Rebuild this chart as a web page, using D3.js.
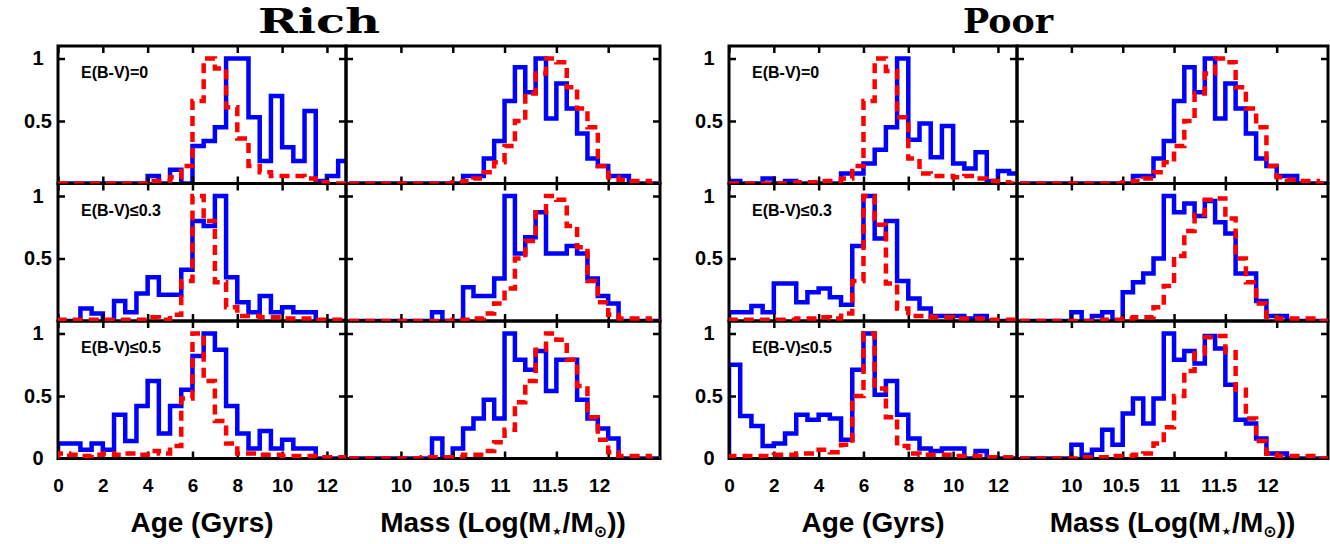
<!DOCTYPE html>
<html>
<head>
<meta charset="utf-8">
<script src="https://cdn.jsdelivr.net/npm/d3@7"></script>
<style>
  body { margin: 0; background: #fff; }
  text { font-family: "Liberation Sans", Arial, sans-serif; font-weight: bold; fill: #000; }
</style>
</head>
<body>
<div id="chart"></div>
<script>
// bin starts (age in Gyr, mass in log Msun)
const ageBins = [0, 0.5, 1, 1.5, 2, 2.5, 3, 3.5, 4, 4.5, 5, 5.5, 6, 6.5, 7, 7.5, 8, 8.5, 9, 9.5, 10, 10.5, 11, 11.5, 12, 12.5];
const massBins = [9.5, 9.6, 9.7, 9.8, 9.9, 10.0, 10.1, 10.2, 10.3, 10.4, 10.5, 10.6, 10.7, 10.8, 10.9, 11.0, 11.1, 11.2, 11.3, 11.4, 11.5, 11.6, 11.7, 11.8, 11.9, 12.0, 12.1, 12.2, 12.3, 12.4];
const ageTicks = [0, 2, 4, 6, 8, 10, 12];
const massTicks = [10, 10.5, 11, 11.5, 12];
const yTicks = [0.5, 1];
const rowLabels = ["E(B-V)=0", "E(B-V)\u22640.3", "E(B-V)\u22640.5"];

// Rich - age
const richAgeE0Blue  = [0, 0, 0, 0, 0, 0, 0, 0, 0.06, 0, 0.11, 0, 0.30, 0.34, 0.45, 1.0, 1.0, 0.53, 0.18, 0.70, 0.29, 0.18, 0.58, 0.02, 0.06, 0.18];
const richAgeE0Red   = [0, 0, 0, 0, 0, 0, 0, 0, 0.02, 0.02, 0.05, 0.14, 0.66, 1.0, 0.92, 0.61, 0.36, 0.14, 0.09, 0.06, 0.06, 0.06, 0.04, 0.01, 0, 0];
const richAgeE03Blue = [0, 0, 0.10, 0.06, 0, 0.16, 0.07, 0.22, 0.35, 0.21, 0.21, 0.41, 0.80, 0.76, 1.0, 0.35, 0.15, 0.07, 0.20, 0.07, 0.11, 0.07, 0.07, 0, 0, 0];
const richAgeE03Red  = [0.01, 0.01, 0.01, 0.01, 0.01, 0.01, 0.01, 0.01, 0.03, 0.01, 0.05, 0.32, 1.0, 0.80, 0.31, 0.11, 0.04, 0.04, 0.03, 0.03, 0.02, 0.02, 0.02, 0.01, 0.01, 0.01];
const richAgeE05Blue = [0.12, 0.12, 0.07, 0.12, 0.07, 0.35, 0.14, 0.42, 0.62, 0.20, 0.42, 0.55, 0.82, 1.0, 0.87, 0.42, 0.20, 0.08, 0.22, 0.08, 0.15, 0.08, 0.08, 0, 0, 0];
const richAgeE05Red  = [0.04, 0.03, 0.02, 0.03, 0.04, 0.03, 0.04, 0.03, 0.06, 0.04, 0.10, 0.48, 1.0, 0.62, 0.30, 0.12, 0.04, 0.04, 0.03, 0.03, 0.02, 0.02, 0.02, 0.01, 0.01, 0.01];

// Rich / Poor - mass, no extinction (same in both groups)
const massE0Blue = [0, 0, 0, 0, 0, 0, 0, 0, 0, 0, 0, 0.06, 0.06, 0.20, 0.34, 0.66, 0.93, 0.73, 1.0, 0.52, 0.80, 0.60, 0.40, 0.20, 0.14, 0.06, 0.06, 0, 0, 0];
const massE0Red  = [0, 0, 0, 0, 0, 0, 0, 0, 0, 0, 0.01, 0.02, 0.04, 0.09, 0.17, 0.30, 0.50, 0.72, 0.88, 1.0, 0.97, 0.77, 0.60, 0.45, 0.14, 0.05, 0.03, 0.02, 0.02, 0];

// Rich - mass
const richMassE03Blue = [0, 0, 0, 0, 0, 0, 0, 0, 0.07, 0, 0, 0.27, 0.20, 0.20, 0.34, 1.0, 0.54, 0.67, 0.87, 0.54, 0.54, 0.60, 0.54, 0.34, 0.20, 0.14, 0, 0, 0, 0];
const richMassE03Red  = [0, 0, 0, 0, 0, 0, 0, 0, 0, 0, 0.01, 0.01, 0.02, 0.06, 0.14, 0.26, 0.50, 0.64, 0.87, 1.0, 0.97, 0.76, 0.59, 0.32, 0.15, 0.05, 0.02, 0.02, 0.02, 0];
const richMassE05Blue = [0, 0, 0, 0, 0, 0, 0, 0, 0.16, 0, 0.08, 0.24, 0.32, 0.47, 0.32, 1.0, 0.79, 0.71, 0.86, 0.54, 0.79, 0.79, 0.47, 0.32, 0.24, 0.16, 0, 0, 0, 0];
const richMassE05Red  = [0, 0, 0, 0, 0, 0, 0, 0.01, 0.01, 0.01, 0.01, 0.03, 0.03, 0.06, 0.13, 0.23, 0.45, 0.62, 0.87, 1.0, 0.95, 0.79, 0.58, 0.33, 0.15, 0.05, 0.02, 0.02, 0.02, 0];

// Poor - age
const poorAgeE0Blue  = [0.02, 0, 0, 0.04, 0, 0.02, 0, 0, 0, 0, 0.08, 0.08, 0.16, 0.27, 0.45, 1.0, 0.35, 0.48, 0.21, 0.46, 0.16, 0.12, 0.25, 0.02, 0.10, 0.08];
const poorAgeE0Red   = [0, 0, 0, 0, 0, 0, 0.01, 0.01, 0.02, 0.02, 0.04, 0.14, 0.66, 1.0, 0.90, 0.53, 0.20, 0.08, 0.06, 0.06, 0.05, 0.06, 0.04, 0.02, 0.01, 0];
const poorAgeE03Blue = [0.07, 0.07, 0.12, 0.07, 0.30, 0.30, 0.15, 0.23, 0.26, 0.19, 0.13, 0.60, 1.0, 0.66, 0.80, 0.32, 0.18, 0.10, 0.04, 0.04, 0.04, 0.02, 0.04, 0, 0, 0];
const poorAgeE03Red  = [0.01, 0.01, 0.01, 0.01, 0.01, 0.01, 0.02, 0.02, 0.03, 0.02, 0.06, 0.32, 1.0, 0.77, 0.30, 0.10, 0.04, 0.04, 0.03, 0.03, 0.02, 0.02, 0.02, 0.01, 0.01, 0.01];
const poorAgeE05Blue = [0.75, 0.34, 0.26, 0.10, 0.12, 0.20, 0.35, 0.31, 0.35, 0.32, 0.15, 0.71, 1.0, 0.51, 0.62, 0.35, 0.16, 0.08, 0.06, 0.08, 0.08, 0, 0.06, 0, 0, 0];
const poorAgeE05Red  = [0.02, 0.02, 0.02, 0.02, 0.03, 0.03, 0.04, 0.04, 0.07, 0.05, 0.11, 0.50, 1.0, 0.56, 0.33, 0.10, 0.04, 0.03, 0.03, 0.03, 0.02, 0.02, 0.02, 0.01, 0.01, 0.01];

// Poor - mass
const poorMassE03Blue = [0, 0, 0, 0, 0, 0.07, 0, 0.04, 0.07, 0, 0.23, 0.31, 0.38, 0.50, 1.0, 0.87, 0.94, 0.84, 0.96, 0.79, 0.70, 0.38, 0.38, 0.16, 0.04, 0.04, 0, 0, 0, 0];
const poorMassE03Red  = [0, 0, 0, 0, 0, 0, 0, 0, 0.01, 0.01, 0.02, 0.03, 0.03, 0.11, 0.28, 0.52, 0.72, 0.85, 0.97, 0.98, 0.82, 0.50, 0.31, 0.14, 0.03, 0.02, 0.02, 0.02, 0.02, 0];
const poorMassE05Blue = [0, 0, 0, 0, 0, 0.11, 0.03, 0.07, 0.23, 0.11, 0.36, 0.48, 0.28, 0.48, 1.0, 0.79, 0.86, 0.76, 0.98, 0.88, 0.59, 0.31, 0.28, 0.16, 0.04, 0.04, 0, 0, 0, 0];
const poorMassE05Red  = [0, 0, 0, 0, 0, 0, 0.01, 0.01, 0.01, 0.02, 0.02, 0.03, 0.04, 0.12, 0.25, 0.50, 0.70, 0.84, 0.97, 0.98, 0.85, 0.55, 0.32, 0.14, 0.04, 0.02, 0.02, 0.02, 0.02, 0];

// Page size
const width = 1330;
const height = 544;

const svg = d3.select('#chart')
  .append('svg')
  .attr('width', width)
  .attr('height', height);

// layout of the two blocks of 3x2 panels
const panelTop = 46;
const rowH = 137.5;
const ageW = 288;
const ageDomain = [0, 12.85];
const massDomain = [9.47, 12.5];

const groups = [
  { title: "Rich", left: 58, massW: 314, titleX: 319, titleW: 122,
    age: [[richAgeE0Blue, richAgeE0Red], [richAgeE03Blue, richAgeE03Red], [richAgeE05Blue, richAgeE05Red]],
    mass: [[massE0Blue, massE0Red], [richMassE03Blue, richMassE03Red], [richMassE05Blue, richMassE05Red]] },
  { title: "Poor", left: 729, massW: 311, titleX: 1008, titleW: 90,
    age: [[poorAgeE0Blue, poorAgeE0Red], [poorAgeE03Blue, poorAgeE03Red], [poorAgeE05Blue, poorAgeE05Red]],
    mass: [[massE0Blue, massE0Red], [poorMassE03Blue, poorMassE03Red], [poorMassE05Blue, poorMassE05Red]] }
];

// layers: blue under the frames, red dashes on top
const blueLayer = svg.append('g');
const frameLayer = svg.append('g');
const redLayer = svg.append('g');
const textLayer = svg.append('g');

// histogram as a step outline
function stepPoints(bins, vals, binW) {
  const pts = [[bins[0], 0]];
  bins.forEach((b, i) => pts.push([b, vals[i]]));
  const end = bins[bins.length - 1] + binW;
  pts.push([end, vals[vals.length - 1]]);
  pts.push([end, 0]);
  return pts;
}

let clipId = 0;

function drawPanel(px, py, w, h, domain, bins, binW, xTicks, series) {
  const x = d3.scaleLinear().domain(domain).range([0, w]);
  const y = d3.scaleLinear().domain([0, 1.1]).range([h, 0]);
  const line = d3.line()
    .x(d => x(d[0]))
    .y(d => y(d[1]))
    .curve(d3.curveStepAfter);

  const id = 'clip' + (clipId++);
  svg.append('clipPath').attr('id', id)
    .append('rect').attr('x', 0).attr('y', 0).attr('width', w).attr('height', h);

  blueLayer.append('g')
    .attr('transform', `translate(${px},${py})`)
    .attr('clip-path', `url(#${id})`)
    .append('path')
    .attr('d', line(stepPoints(bins, series[0], binW)))
    .attr('fill', 'none')
    .attr('stroke', '#0000ff')
    .attr('stroke-width', 4.5);

  redLayer.append('g')
    .attr('transform', `translate(${px},${py})`)
    .attr('clip-path', `url(#${id})`)
    .append('path')
    .attr('d', line(stepPoints(bins, series[1], binW)))
    .attr('fill', 'none')
    .attr('stroke', '#ff0000')
    .attr('stroke-width', 4.5)
    .attr('stroke-dasharray', '10,6');

  // frame with inward ticks on all sides
  const g = frameLayer.append('g').attr('transform', `translate(${px},${py})`);
  g.append('g').attr('transform', `translate(0,${h})`)
    .call(d3.axisBottom(x).tickValues(xTicks).tickSize(-7).tickFormat(''));
  g.append('g')
    .call(d3.axisTop(x).tickValues(xTicks).tickSize(-7).tickFormat(''));
  g.append('g')
    .call(d3.axisLeft(y).tickValues(yTicks).tickSize(-7).tickFormat(''));
  g.append('g').attr('transform', `translate(${w},0)`)
    .call(d3.axisRight(y).tickValues(yTicks).tickSize(-7).tickFormat(''));
  g.selectAll('.domain').remove();
  g.selectAll('.tick line').attr('stroke', '#000').attr('stroke-width', 2.5);
  g.append('rect')
    .attr('width', w).attr('height', h)
    .attr('fill', 'none').attr('stroke', '#000').attr('stroke-width', 3);

  return { x, y };
}

groups.forEach(grp => {
  const massLeft = grp.left + ageW;
  let ageScales, massScales;

  for (let r = 0; r < 3; r++) {
    const py = panelTop + r * rowH;
    ageScales = drawPanel(grp.left, py, ageW, rowH, ageDomain, ageBins, 0.5, ageTicks, grp.age[r]);
    massScales = drawPanel(massLeft, py, grp.massW, rowH, massDomain, massBins, 0.1, massTicks, grp.mass[r]);

    // y tick labels on the age panels
    const yl = textLayer.append('g').attr('transform', `translate(${grp.left},${py})`)
      .call(d3.axisLeft(ageScales.y).tickValues(r === 2 ? [0, 0.5, 1] : yTicks).tickSize(0).tickFormat(d => String(d)));
    yl.select('.domain').remove();
    yl.selectAll('text')
      .attr('x', -20)
      .attr('text-anchor', 'middle')
      .style('font-size', '20px')
      .style('font-family', '"Liberation Sans", Arial, sans-serif')
      .style('font-weight', 'bold');

    // row label
    textLayer.append('text')
      .attr('x', grp.left + 23)
      .attr('y', py + 32)
      .style('font-size', '16px')
      .text(rowLabels[r]);
  }

  // x tick labels under the bottom row
  const bottom = panelTop + 3 * rowH;
  const xa = textLayer.append('g').attr('transform', `translate(${grp.left},${bottom})`)
    .call(d3.axisBottom(ageScales.x).tickValues(ageTicks).tickSize(0).tickPadding(20).tickFormat(d => String(d)));
  const xm = textLayer.append('g').attr('transform', `translate(${massLeft},${bottom})`)
    .call(d3.axisBottom(massScales.x).tickValues(massTicks).tickSize(0).tickPadding(20).tickFormat(d => String(d)));
  [xa, xm].forEach(a => {
    a.select('.domain').remove();
    a.selectAll('text')
      .style('font-size', '19px')
      .style('font-family', '"Liberation Sans", Arial, sans-serif')
      .style('font-weight', 'bold');
  });
  // mass labels in the original sit a little left of their ticks
  xm.selectAll('.tick text').attr('x', d => -(d - 10) * 4.5);

  // axis titles
  textLayer.append('text')
    .attr('x', grp.left + ageW / 2)
    .attr('y', 532)
    .attr('text-anchor', 'middle')
    .style('font-size', '28px')
    .text('Age (Gyrs)');

  const mt = textLayer.append('text')
    .attr('x', massLeft + grp.massW / 2)
    .attr('y', 532)
    .attr('text-anchor', 'middle')
    .style('font-size', '28px');
  mt.append('tspan').text('Mass (Log(M');
  mt.append('tspan').attr('dy', 5).style('font-size', '18px').style('font-family', '"DejaVu Sans", sans-serif').text('\u22C6');
  mt.append('tspan').attr('dy', -5).text('/M');
  mt.append('tspan').attr('dy', 5).style('font-size', '16px').style('font-family', '"DejaVu Sans", sans-serif').text('\u2299');
  mt.append('tspan').attr('dy', -5).text('))');

  // group title
  textLayer.append('text')
    .attr('x', grp.titleX)
    .attr('y', 33)
    .attr('text-anchor', 'middle')
    .attr('textLength', grp.titleW)
    .attr('lengthAdjust', 'spacingAndGlyphs')
    .style('font-family', '"DejaVu Serif", "Liberation Serif", serif')
    .style('font-weight', 'bold')
    .style('font-size', '33px')
    .text(grp.title);
});
</script>
</body>
</html>
